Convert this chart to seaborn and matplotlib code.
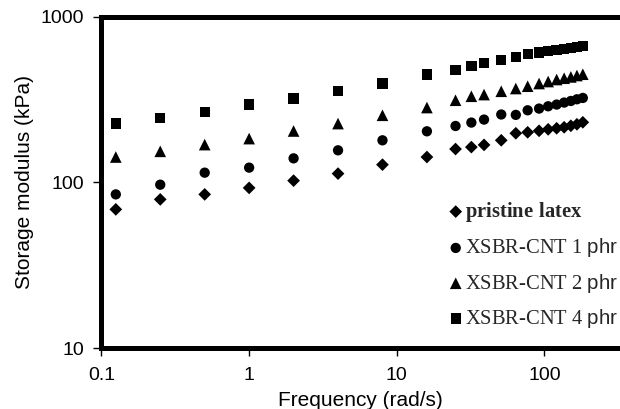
import matplotlib
matplotlib.use("Agg")
import matplotlib.pyplot as plt
import matplotlib.ticker as mticker
import seaborn as sns
import pandas as pd

# Angular frequency sweep (rad/s)
frequency = [0.125, 0.25, 0.5, 1, 2, 4, 8, 16, 25, 32, 39, 51, 64, 77,
             92, 106, 121, 136, 151, 166, 182]

# Storage modulus G' (kPa)
pristine = [68.7, 78.9, 84.6, 92.6, 102.4, 112.9, 127.9, 142.2, 158.9, 163.2,
            168.3, 179.4, 197.8, 200.5, 204.7, 209.0, 212.0, 215.0, 219.5,
            224.1, 230.4]
cnt1 = [84.6, 96.8, 114.4, 122.7, 139.6, 156.1, 179.4, 203.3, 218.9, 229.5,
        239.3, 256.8, 255.4, 272.3, 278.8, 287.9, 294.8, 303.1, 309.9, 317.3,
        323.2]
cnt2 = [142.2, 153.9, 169.0, 183.7, 204.2, 226.3, 254.0, 282.8, 313.0, 330.8,
        338.7, 354.6, 368.4, 380.4, 394.9, 406.0, 417.5, 425.0, 432.8, 441.3,
        449.4]
cnt4 = [226.3, 243.6, 264.9, 295.1, 320.4, 354.6, 394.9, 447.6, 475.0, 502.0,
        523.6, 549.8, 569.3, 595.2, 607.9, 618.9, 627.6, 636.4, 649.8, 658.9,
        668.2]

series_labels = [r"$\mathbf{pristine\ latex}$",
                 r"XSBR-CNT 1 $\mathsf{phr}$",
                 r"XSBR-CNT 2 $\mathsf{phr}$",
                 r"XSBR-CNT 4 $\mathsf{phr}$"]
x_ticks = [0.1, 1, 10, 100]
x_tick_labels = ["0.1", "1", "10", "100"]
y_ticks = [10, 100, 1000]
y_tick_labels = ["10", "100", "1000"]

sns.set_theme(style="ticks")
plt.rcParams["font.family"] = ["Liberation Sans", "DejaVu Sans"]
plt.rcParams["mathtext.fontset"] = "custom"
plt.rcParams["mathtext.sf"] = "Liberation Sans"
plt.rcParams["mathtext.bf"] = "Liberation Serif:bold"
plt.rcParams["mathtext.rm"] = "Liberation Serif"

fig = plt.figure(figsize=(6.2, 4.09), dpi=100)
ax = fig.add_axes([0.1637, 0.1491, 0.8363, 0.8101])

styles = [("D", 42), ("o", 55), ("^", 70), ("s", 55)]
for vals, label, (mk, sz) in zip([pristine, cnt1, cnt2, cnt4], series_labels, styles):
    df = pd.DataFrame({"freq": frequency, "G": vals})
    sns.scatterplot(data=df, x="freq", y="G", marker=mk, s=sz, color="black",
                    edgecolor="none", linewidth=0, label=label, ax=ax, zorder=3)

ax.set_xscale("log")
ax.set_yscale("log")
ax.set_xlim(0.1, 325)
ax.set_ylim(10, 1000)
ax.xaxis.set_major_locator(mticker.FixedLocator(x_ticks))
ax.xaxis.set_major_formatter(mticker.FixedFormatter(x_tick_labels))
ax.yaxis.set_major_locator(mticker.FixedLocator(y_ticks))
ax.yaxis.set_major_formatter(mticker.FixedFormatter(y_tick_labels))
ax.xaxis.set_minor_locator(mticker.NullLocator())
ax.yaxis.set_minor_locator(mticker.NullLocator())

for side in ["left", "bottom", "top"]:
    ax.spines[side].set_linewidth(3.6)
    ax.spines[side].set_color("black")
ax.spines["right"].set_visible(False)
ax.tick_params(axis="both", which="major", direction="out", length=5.5,
               width=1.0, color="black", labelsize=14, labelcolor="black")
ax.tick_params(axis="x", pad=8)
ax.tick_params(axis="y", pad=7)

ax.set_xlabel("Frequency (rad/s)", fontsize=15, color="black", labelpad=5)
ax.set_ylabel("Storage modulus (kPa)", fontsize=15, color="black", labelpad=5)
ax.grid(False)

leg = ax.legend(loc="upper left", bbox_to_anchor=(447.5 / 620, 1 - 200 / 409),
                bbox_transform=fig.transFigure, frameon=False, borderpad=0,
                borderaxespad=0, handlelength=0.8, handletextpad=0.05,
                labelspacing=0.6, prop={"family": "Liberation Serif", "size": 14.8})

fig.savefig("out.png", dpi=100)
